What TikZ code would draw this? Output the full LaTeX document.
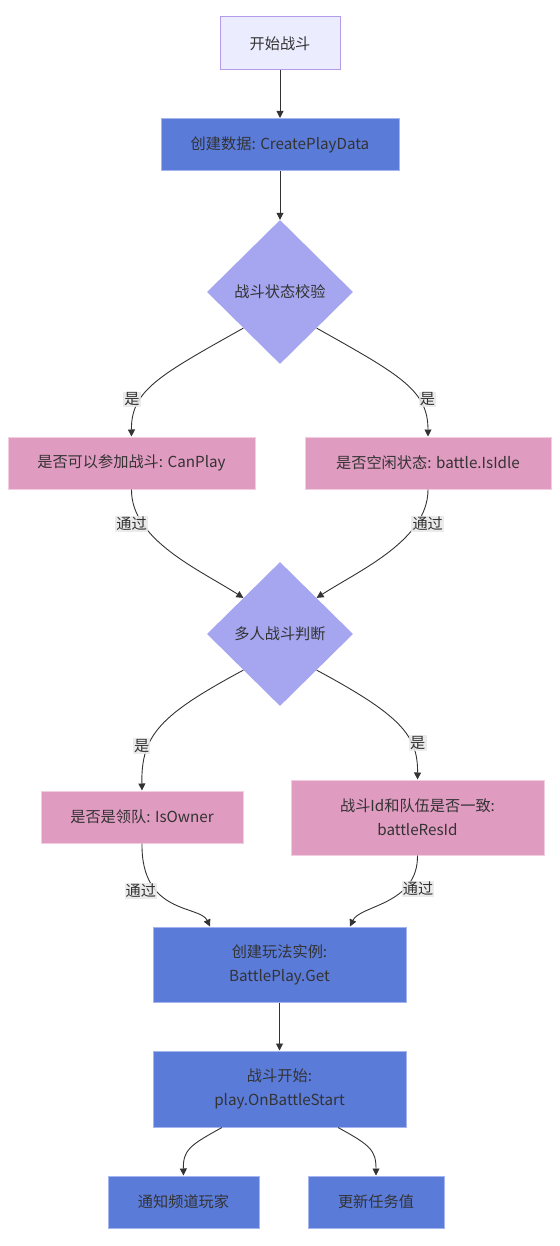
\documentclass[tikz,border=0pt]{standalone}
\usepackage{fontspec}
\setmainfont{Noto Sans CJK SC}
\usetikzlibrary{arrows.meta,shapes.geometric}

\definecolor{txtgray}{HTML}{333333}
\definecolor{startfill}{HTML}{ECECFF}
\definecolor{startline}{HTML}{B39DEB}
\definecolor{stepblue}{HTML}{5B7BD9}
\definecolor{stepline}{HTML}{A4B5F2}
\definecolor{checkpink}{HTML}{E09BC0}
\definecolor{checkline}{HTML}{F2CDE0}
\definecolor{decidefill}{HTML}{A5A6EF}
\definecolor{lblgray}{HTML}{E8E8E8}

\begin{document}
\begin{tikzpicture}[x=1pt,y=-1pt,
  every node/.style={font=\fontsize{15.2}{24}\selectfont,text=txtgray,align=center},
  startbox/.style={draw=startline,fill=startfill,line width=1pt,minimum width=120pt,minimum height=53pt},
  stepbox/.style={draw=stepline,fill=stepblue,line width=1pt,minimum height=52pt},
  checkbox/.style={draw=checkline,fill=checkpink,line width=1pt,minimum height=52pt},
  decide/.style={diamond,fill=decidefill,inner sep=0pt,minimum width=146pt,minimum height=144pt},
  flow/.style={draw=txtgray,line width=0.9pt,-{Triangle[length=7pt,width=7pt]}},
  edgelbl/.style={fill=lblgray,fill opacity=0.85,text opacity=1,inner sep=1.2pt}]
\useasboundingbox (0,0) rectangle (559,1246);

% main column
\node[startbox] (start) at (280,43.5) {开始战斗};
\node[stepbox,minimum width=238pt] (create) at (280,144.5) {创建数据: CreatePlayData};
\node[decide] (check) at (280,292) {战斗状态校验};

% first checks
\node[checkbox,minimum width=247pt] (canplay) at (131.5,463) {是否可以参加战斗: CanPlay};
\node[checkbox,minimum width=246pt] (idle) at (428,463) {是否空闲状态: battle.IsIdle};

\node[decide] (multi) at (280,634) {多人战斗判断};

% team checks
\node[checkbox,minimum width=202pt] (owner) at (142,817) {是否是领队: IsOwner};
\node[checkbox,minimum width=253pt,minimum height=75pt] (resid) at (417.5,817.5) {战斗Id和队伍是否一致:\\battleResId};

\node[stepbox,minimum width=253pt,minimum height=75pt] (getplay) at (279.5,964.5) {创建玩法实例:\\BattlePlay.Get};
\node[stepbox,minimum width=253pt,minimum height=76pt] (onstart) at (279.5,1089) {战斗开始:\\play.OnBattleStart};

\node[stepbox,minimum width=151pt] (notify) at (183.5,1202) {通知频道玩家};
\node[stepbox,minimum width=136pt] (quest) at (376,1202) {更新任务值};

% connectors
\draw[flow] (start) -- (create);
\draw[flow] (create) -- (check);
\draw[flow] (check.south west) .. controls (160,375) and (131,390) .. node[edgelbl,pos=0.68,xshift=-9pt] {是} (canplay.north);
\draw[flow] (check.south east) .. controls (400,375) and (428,390) .. node[edgelbl,pos=0.68,xshift=9pt] {是} (idle.north);
\draw[flow] (canplay.south) .. controls (131,540) and (200,570) .. node[edgelbl,pos=0.25,xshift=-11pt] {通过} (multi.north west);
\draw[flow] (idle.south) .. controls (428,540) and (360,570) .. node[edgelbl,pos=0.25,xshift=11pt] {通过} (multi.north east);
\draw[flow] (multi.south west) .. controls (160,715) and (141,735) .. node[edgelbl,pos=0.68,xshift=-7pt] {是} (owner.north);
\draw[flow] (multi.south east) .. controls (400,715) and (418,735) .. node[edgelbl,pos=0.68,xshift=7pt] {是} (resid.north);
\draw[flow] (owner.south) .. controls (141,915) and (200,905) .. node[edgelbl,pos=0.32,xshift=-15pt] {通过} ([xshift=-69.5pt]getplay.north);
\draw[flow] (resid.south) .. controls (418,905) and (360,905) .. node[edgelbl,pos=0.3,xshift=13pt] {通过} ([xshift=70.5pt]getplay.north);
\draw[flow] (getplay) -- (onstart);
\draw[flow] ([xshift=-57.5pt]onstart.south) .. controls (190,1145) and (183,1150) .. (notify.north);
\draw[flow] ([xshift=58.5pt]onstart.south) .. controls (370,1145) and (376,1150) .. (quest.north);
\end{tikzpicture}
\end{document}
